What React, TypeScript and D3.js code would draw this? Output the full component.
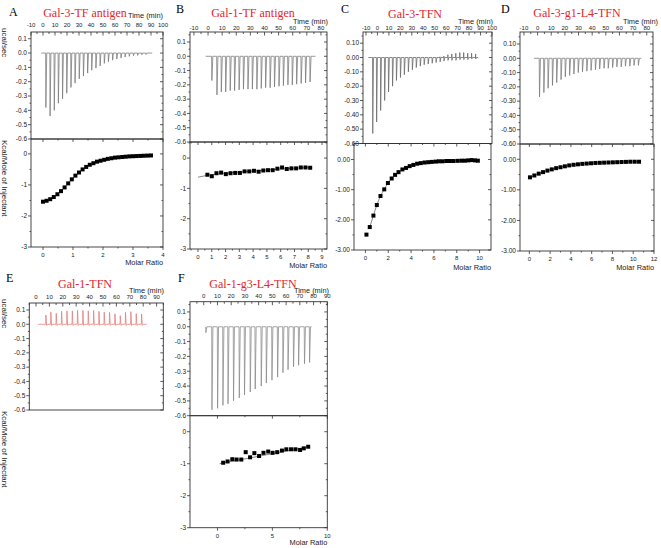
import React from 'react';
import * as d3 from 'd3';

// ---------------- DATA ----------------
// Panel A : Gal-3-TF antigen
const aInjTime = [2.2, 5.7, 9.2, 12.6, 16.1, 19.6, 23.1, 26.5, 30.0, 33.5, 37.0, 40.4, 43.9, 47.4, 50.9, 54.3, 57.8, 61.3, 64.8, 68.2, 71.7, 75.2, 78.7, 82.1, 85.6];
const aInjPeak = [-0.38, -0.44, -0.4, -0.35, -0.32, -0.28, -0.24, -0.21, -0.18, -0.16, -0.14, -0.12, -0.105, -0.09, -0.072, -0.06, -0.05, -0.042, -0.035, -0.028, -0.023, -0.018, -0.016, -0.012, -0.01];
const aRatio = [0.0, 0.12, 0.24, 0.36, 0.48, 0.6, 0.72, 0.84, 0.96, 1.08, 1.2, 1.32, 1.44, 1.56, 1.68, 1.8, 1.92, 2.04, 2.16, 2.28, 2.4, 2.52, 2.64, 2.76, 2.88, 3.0, 3.12, 3.24, 3.36, 3.48, 3.6];
const aHeat = [-1.54, -1.51, -1.46, -1.39, -1.3, -1.2, -1.08, -0.95, -0.82, -0.7, -0.6, -0.5, -0.42, -0.35, -0.3, -0.25, -0.22, -0.19, -0.16, -0.14, -0.12, -0.11, -0.1, -0.09, -0.08, -0.075, -0.07, -0.065, -0.06, -0.055, -0.05];

// Panel B : Gal-1-TF antigen
const bInjTime = [2.5, 6.1, 9.2, 12.3, 15.5, 18.6, 21.8, 24.9, 28.1, 31.2, 34.4, 37.5, 40.6, 43.8, 46.9, 50.1, 53.2, 56.4, 59.5, 62.6, 65.8, 68.9, 72.1];
const bInjPeak = [-0.17, -0.27, -0.25, -0.25, -0.24, -0.24, -0.235, -0.23, -0.23, -0.23, -0.23, -0.225, -0.22, -0.22, -0.215, -0.21, -0.205, -0.2, -0.2, -0.195, -0.19, -0.185, -0.18];
const bRatio = [0.68, 1.0, 1.34, 1.68, 2.02, 2.36, 2.7, 3.04, 3.38, 3.72, 4.06, 4.4, 4.74, 5.08, 5.42, 5.76, 6.1, 6.44, 6.78, 7.12, 7.46, 7.8, 8.14];
const bHeat = [-0.55, -0.6, -0.5, -0.48, -0.53, -0.5, -0.49, -0.49, -0.44, -0.44, -0.42, -0.45, -0.41, -0.4, -0.4, -0.35, -0.31, -0.36, -0.34, -0.34, -0.31, -0.31, -0.32];
const bFitRatio = [0.0, 0.68, 2.0, 4.0, 6.0, 8.2];
const bFitHeat = [-0.63, -0.57, -0.5, -0.43, -0.36, -0.31];

// Panel C : Gal-3-TFN
const cInjTime = [-4.3, -0.9, 2.6, 6.1, 9.5, 13.0, 16.4, 19.9, 23.3, 26.8, 30.3, 33.7, 37.2, 40.6, 44.1, 47.6, 51.0, 54.5, 57.9, 61.4, 64.8, 68.3, 71.8, 75.2, 78.7, 82.1, 85.6];
const cInjPeak = [-0.53, -0.45, -0.37, -0.3, -0.24, -0.2, -0.16, -0.14, -0.12, -0.1, -0.085, -0.07, -0.06, -0.05, -0.045, -0.04, -0.035, -0.03, -0.025, -0.02, -0.02, -0.02, -0.015, -0.015, -0.015, -0.01, -0.01];
const cInjUp = [0, 0, 0, 0, 0, 0, 0, 0, 0, 0, 0, 0, 0, 0, 0, 0, 0, 0.005, 0.01, 0.02, 0.025, 0.03, 0.035, 0.035, 0.03, 0.03, 0.025];
const cRatio = [0.09, 0.38, 0.7, 1.0, 1.32, 1.65, 1.97, 2.3, 2.6, 2.9, 3.24, 3.56, 3.88, 4.2, 4.53, 4.85, 5.18, 5.5, 5.82, 6.15, 6.44, 6.76, 7.09, 7.4, 7.7, 8.06, 8.4, 8.7, 9.0, 9.3, 9.6, 9.85];
const cHeat = [-2.49, -2.24, -1.86, -1.51, -1.21, -0.99, -0.78, -0.63, -0.51, -0.42, -0.33, -0.28, -0.22, -0.18, -0.14, -0.12, -0.1, -0.09, -0.08, -0.07, -0.06, -0.06, -0.05, -0.05, -0.05, -0.045, -0.04, -0.04, -0.03, -0.02, -0.03, -0.04];

// Panel D : Gal-3-g1-L4-TFN
const dInjTime = [1.2, 4.4, 7.5, 10.7, 13.8, 17.0, 20.1, 23.3, 26.4, 29.6, 32.7, 35.9, 39.0, 42.2, 45.3, 48.5, 51.6, 54.8, 57.9, 61.1, 64.2, 67.4, 70.5, 73.7];
const dInjPeak = [-0.27, -0.24, -0.21, -0.19, -0.17, -0.15, -0.13, -0.12, -0.11, -0.1, -0.095, -0.09, -0.085, -0.08, -0.075, -0.07, -0.07, -0.065, -0.06, -0.06, -0.055, -0.055, -0.05, -0.05];
const dRatio = [0.06, 0.48, 0.9, 1.32, 1.74, 2.16, 2.58, 3.0, 3.42, 3.84, 4.26, 4.68, 5.1, 5.52, 5.94, 6.36, 6.78, 7.2, 7.62, 8.04, 8.46, 8.88, 9.3, 9.72, 10.14, 10.56];
const dHeat = [-0.59, -0.53, -0.47, -0.42, -0.37, -0.33, -0.29, -0.26, -0.23, -0.2, -0.18, -0.165, -0.15, -0.14, -0.13, -0.12, -0.115, -0.11, -0.105, -0.1, -0.095, -0.09, -0.085, -0.08, -0.08, -0.08];

// Panel E : Gal-1-TFN (raw only)
const eInjTime = [7.2, 10.9, 14.9, 18.9, 22.9, 26.9, 30.8, 34.8, 38.8, 42.8, 46.8, 50.7, 54.7, 58.7, 62.7, 66.6, 70.6, 74.6, 78.6];
const eInjPeak = [0.065, 0.085, 0.077, 0.09, 0.094, 0.094, 0.097, 0.097, 0.094, 0.097, 0.09, 0.085, 0.083, 0.073, 0.06, 0.083, 0.088, 0.075, 0.072];

// Panel F : Gal-1-g3-L4-TFN
const fInjTime = [1.4, 5.8, 9.9, 13.8, 17.5, 21.5, 25.7, 29.5, 33.7, 37.3, 41.7, 45.4, 49.5, 53.6, 57.5, 61.2, 65.2, 68.9, 73.2, 76.9];
const fInjPeak = [-0.04, -0.56, -0.55, -0.53, -0.52, -0.5, -0.48, -0.46, -0.44, -0.42, -0.4, -0.38, -0.36, -0.34, -0.31, -0.29, -0.27, -0.26, -0.25, -0.24];
const fRatio = [0.52, 0.92, 1.35, 1.74, 2.17, 2.57, 2.97, 3.36, 3.79, 4.19, 4.62, 5.02, 5.44, 5.87, 6.27, 6.7, 7.1, 7.52, 7.86, 8.26];
const fHeat = [-0.97, -0.93, -0.86, -0.87, -0.87, -0.64, -0.8, -0.67, -0.76, -0.66, -0.62, -0.66, -0.64, -0.59, -0.55, -0.55, -0.55, -0.57, -0.52, -0.47];
const fFitRatio = [0.2, 8.3];
const fFitHeat = [-1.0, -0.47];

// Tick values
const timeTicks100 = [-10, 0, 10, 20, 30, 40, 50, 60, 70, 80, 90, 100];
const timeTicks80 = [-10, 0, 10, 20, 30, 40, 50, 60, 70, 80];
const timeTicks90 = [0, 10, 20, 30, 40, 50, 60, 70, 80, 90];
const rawTicks = [0.1, 0.0, -0.1, -0.2, -0.3, -0.4, -0.5, -0.6];
const heatTicks = [0, -1, -2, -3];
const ratioTicksA = [0, 1, 2, 3, 4];
const ratioTicksB = [0, 1, 2, 3, 4, 5, 6, 7, 8, 9];
const ratioTicksC = [0, 2, 4, 6, 8, 10];
const ratioTicksD = [0, 2, 4, 6, 8, 10, 12];
const ratioTicksF = [0, 5, 10];

const SANS = "'Liberation Sans', Arial, sans-serif";
const SERIF = "'Liberation Serif', 'Times New Roman', serif";
const AX = '#333';

type Bottom = {
  x0: number; x1: number; yBot: number; top: number;
  ratioDom: [number, number]; ratioTicks: number[]; ratioMinor: number;
  heatDec: number; ratio: number[]; heat: number[];
  fitR?: number[]; fitH?: number[]; molarY: number;
};

type Cfg = {
  letter: string; letterX: number; letterY: number;
  title: string; titleX: number; titleY: number;
  x0: number; x1: number; yTop: number; yMid: number; rawTop: number;
  timeDom: [number, number]; timeTicks: number[]; timeLabelY: number; tickLabelY: number; timeRight: number;
  rawDec: number;
  injTime: number[]; injPeak: number[]; injUp?: number[]; traceStart: number; traceEnd: number;
  traceColor: string; positive?: boolean;
  bottom?: Bottom;
  yLabels?: boolean;
};

function tracePoints(c: Cfg): [number, number][] {
  const pts: [number, number][] = [[c.traceStart, 0]];
  c.injTime.forEach((t, i) => {
    pts.push([t, 0]);
    const up = c.injUp ? c.injUp[i] : 0;
    if (up) pts.push([t + 0.1, up]);
    pts.push([t + 0.2, c.injPeak[i]]);
    if (c.positive) {
      pts.push([t + 0.7, -0.008]);
      pts.push([t + 1.6, 0]);
    } else {
      pts.push([t + 0.9, 0]);
    }
  });
  pts.push([c.traceEnd, 0]);
  return pts;
}

function Panel({ c }: { c: Cfg }) {
  const tx = d3.scaleLinear().domain(c.timeDom).range([c.x0, c.x1]);
  const ry = d3.scaleLinear().domain([-0.6, c.rawTop]).range([c.yMid, c.yTop]);
  const line = d3.line<[number, number]>().x(d => tx(d[0])).y(d => ry(d[1]));
  const els: React.ReactNode[] = [];
  let k = 0;
  const L = (x1: number, y1: number, x2: number, y2: number, w = 0.8, col = AX) =>
    els.push(<line key={k++} x1={x1} y1={y1} x2={x2} y2={y2} stroke={col} strokeWidth={w} />);
  const T = (x: number, y: number, s: string, anchor = 'middle', size = 6.5) =>
    els.push(<text key={k++} x={x} y={y} dy="0.35em" textAnchor={anchor} fontFamily={SANS} fontSize={size} fill="#222">{s}</text>);

  els.push(<rect key={k++} x={c.x0} y={c.yTop} width={c.x1 - c.x0} height={c.yMid - c.yTop} fill="none" stroke={AX} strokeWidth={0.9} />);
  c.timeTicks.forEach(t => {
    const x = tx(t);
    L(x, c.yTop, x, c.yTop + 3.5);
    T(x, c.tickLabelY, String(t), 'middle', 6);
    const m = t + 5;
    if (m <= c.timeDom[1]) L(tx(m), c.yTop, tx(m), c.yTop + 2);
  });
  if (c.timeTicks[0] - 5 >= c.timeDom[0]) { const x = tx(c.timeTicks[0] - 5); L(x, c.yTop, x, c.yTop + 2); }
  rawTicks.forEach(v => {
    const y = ry(v);
    L(c.x0 - 3, y, c.x0, y);
    L(c.x1 - 3, y, c.x1, y);
    T(c.x0 - 4, y, v.toFixed(c.rawDec), 'end');
    const m = v + 0.05;
    if (m <= c.rawTop) { L(c.x0 - 1.5, ry(m), c.x0, ry(m)); L(c.x1 - 1.5, ry(m), c.x1, ry(m)); }
  });
  els.push(<text key={k++} x={c.timeRight} y={c.timeLabelY} dy="0.35em" textAnchor="end" fontFamily={SANS} fontSize={7.4} fill="#222">Time (min)</text>);
  els.push(<path key={k++} d={line(tracePoints(c)) || ''} fill="none" stroke={c.traceColor} strokeWidth={0.75} />);

  if (c.bottom) {
    const b = c.bottom;
    const bx = d3.scaleLinear().domain(b.ratioDom).range([b.x0, b.x1]);
    const by = d3.scaleLinear().domain([-3, b.top]).range([b.yBot, c.yMid]);
    els.push(<rect key={k++} x={b.x0} y={c.yMid} width={b.x1 - b.x0} height={b.yBot - c.yMid} fill="none" stroke={AX} strokeWidth={0.9} />);
    b.ratioTicks.forEach(r => {
      const x = bx(r);
      L(x, b.yBot, x, b.yBot + 3);
      L(x, c.yMid, x, c.yMid + 3);
      T(x, b.yBot + 8, String(r), 'middle', 6);
      const m = r + b.ratioMinor;
      if (m < b.ratioDom[1]) { L(bx(m), b.yBot, bx(m), b.yBot + 1.5); L(bx(m), c.yMid, bx(m), c.yMid + 1.5); }
    });
    if (b.ratioTicks[0] - b.ratioMinor > b.ratioDom[0]) {
      const x = bx(b.ratioTicks[0] - b.ratioMinor);
      L(x, b.yBot, x, b.yBot + 1.5); L(x, c.yMid, x, c.yMid + 1.5);
    }
    heatTicks.forEach(v => {
      const y = by(v);
      L(b.x0 - 3, y, b.x0, y);
      L(b.x1 - 3, y, b.x1, y);
      T(b.x0 - 4, y, v.toFixed(b.heatDec), 'end');
      const m = v + 0.5;
      if (m < b.top) { L(b.x0 - 1.5, by(m), b.x0, by(m)); L(b.x1 - 1.5, by(m), b.x1, by(m)); }
    });
    els.push(<text key={k++} x={b.x1} y={b.molarY} dy="0.35em" textAnchor="end" fontFamily={SANS} fontSize={7.4} fill="#222">Molar Ratio</text>);
    const fr = b.fitR || b.ratio;
    const fh = b.fitH || b.heat;
    const fl = d3.line<number>().x((_, i) => bx(fr[i])).y(d => by(d)).curve(d3.curveMonotoneX);
    els.push(<path key={k++} d={fl(fh) || ''} fill="none" stroke="#555" strokeWidth={0.7} />);
    b.ratio.forEach((r, i) => {
      els.push(<rect key={k++} x={bx(r) - 2} y={by(b.heat[i]) - 2} width={4} height={4} fill="#000" />);
    });
  }

  els.push(<text key={k++} x={c.letterX} y={c.letterY} fontFamily={SERIF} fontSize={12} fill="#000">{c.letter}</text>);
  els.push(<text key={k++} x={c.titleX} y={c.titleY} textAnchor="middle" fontFamily={SERIF} fontSize={12} fill="#e0282c">{c.title}</text>);

  if (c.yLabels) {
    els.push(<text key={k++} transform={`translate(5,${c.yTop - 4}) rotate(90)`} dy="0.35em" fontFamily={SANS} fontSize={8} fill="#222">ucal/sec</text>);
    els.push(<text key={k++} transform={`translate(5,${c.yMid + 1}) rotate(90)`} dy="0.35em" fontFamily={SANS} fontSize={8} fill="#222">Kcal/Mole of Injectant</text>);
  }
  return <g>{els}</g>;
}

const panels: Cfg[] = [
  {
    letter: 'A', letterX: 9, letterY: 16, title: 'Gal-3-TF antigen', titleX: 85, titleY: 17,
    x0: 31, x1: 163, yTop: 32, yMid: 139, rawTop: 0.147, timeDom: [-10, 100], timeTicks: timeTicks100,
    timeLabelY: 15, tickLabelY: 24.5, timeRight: 163, rawDec: 1,
    injTime: aInjTime, injPeak: aInjPeak, traceStart: -1.4, traceEnd: 91, traceColor: '#777', yLabels: true,
    bottom: { x0: 31, x1: 163, yBot: 247, top: 0.48, ratioDom: [-0.4, 4], ratioTicks: ratioTicksA, ratioMinor: 0.5, heatDec: 0, ratio: aRatio, heat: aHeat, molarY: 262 },
  },
  {
    letter: 'B', letterX: 176, letterY: 13, title: 'Gal-1-TF antigen', titleX: 253, titleY: 17,
    x0: 190, x1: 327, yTop: 32, yMid: 142, rawTop: 0.17, timeDom: [-12.8, 84.3], timeTicks: timeTicks80,
    timeLabelY: 21, tickLabelY: 28, timeRight: 328, rawDec: 1,
    injTime: bInjTime, injPeak: bInjPeak, traceStart: -1.7, traceEnd: 76.2, traceColor: '#777',
    bottom: { x0: 190, x1: 327, yBot: 249, top: 0.53, ratioDom: [-0.58, 9.36], ratioTicks: ratioTicksB, ratioMinor: 0.5, heatDec: 0, ratio: bRatio, heat: bHeat, fitR: bFitRatio, fitH: bFitHeat, molarY: 265 },
  },
  {
    letter: 'C', letterX: 341, letterY: 13, title: 'Gal-3-TFN', titleX: 415, titleY: 18,
    x0: 363, x1: 492, yTop: 32, yMid: 143.5, rawTop: 0.178, timeDom: [-12.6, 100], timeTicks: timeTicks100,
    timeLabelY: 21.5, tickLabelY: 28, timeRight: 493, rawDec: 2,
    injTime: cInjTime, injPeak: cInjPeak, injUp: cInjUp, traceStart: -8, traceEnd: 88, traceColor: '#666',
    bottom: { x0: 354, x1: 491, yBot: 250, top: 0.53, ratioDom: [-1, 11], ratioTicks: ratioTicksC, ratioMinor: 1, heatDec: 2, ratio: cRatio, heat: cHeat, fitR: cRatio.slice(1), fitH: cHeat.slice(1), molarY: 267 },
  },
  {
    letter: 'D', letterX: 501, letterY: 13, title: 'Gal-3-g1-L4-TFN', titleX: 577, titleY: 17,
    x0: 520, x1: 653, yTop: 32, yMid: 144, rawTop: 0.184, timeDom: [-12.9, 84.6], timeTicks: timeTicks80,
    timeLabelY: 21, tickLabelY: 28, timeRight: 658, rawDec: 2,
    injTime: dInjTime, injPeak: dInjPeak, traceStart: -2.7, traceEnd: 76, traceColor: '#777',
    bottom: { x0: 520, x1: 654, yBot: 251, top: 0.5, ratioDom: [-0.9, 12], ratioTicks: ratioTicksD, ratioMinor: 1, heatDec: 2, ratio: dRatio, heat: dHeat, molarY: 267 },
  },
  {
    letter: 'E', letterX: 6, letterY: 282, title: 'Gal-1-TFN', titleX: 85, titleY: 288,
    x0: 29.3, x1: 163.3, yTop: 303, yMid: 410, rawTop: 0.149, timeDom: [-5, 95], timeTicks: timeTicks90,
    timeLabelY: 290, tickLabelY: 297, timeRight: 164, rawDec: 1,
    injTime: eInjTime, injPeak: eInjPeak, traceStart: 1.7, traceEnd: 82.6, traceColor: '#e07a7a', positive: true, yLabels: true,
  },
  {
    letter: 'F', letterX: 178, letterY: 282, title: 'Gal-1-g3-L4-TFN', titleX: 253, titleY: 288,
    x0: 190, x1: 327.3, yTop: 301.7, yMid: 415.7, rawTop: 0.169, timeDom: [-10, 90], timeTicks: timeTicks90,
    timeLabelY: 290, tickLabelY: 296, timeRight: 329, rawDec: 1,
    injTime: fInjTime, injPeak: fInjPeak, traceStart: 1.4, traceEnd: 78.6, traceColor: '#888',
    bottom: { x0: 190, x1: 327.3, yBot: 527.7, top: 0.5, ratioDom: [-2.5, 10], ratioTicks: ratioTicksF, ratioMinor: 2.5, heatDec: 0, ratio: fRatio, heat: fHeat, fitR: fFitRatio, fitH: fFitHeat, molarY: 542 },
  },
];

export default function App() {
  return (
    <svg width={661} height={548} style={{ position: 'absolute', left: 0, top: 0, background: '#fff' }}>
      <rect x={0} y={0} width={661} height={548} fill="#fff" />
      {panels.map(p => <Panel key={p.letter} c={p} />)}
    </svg>
  );
}
